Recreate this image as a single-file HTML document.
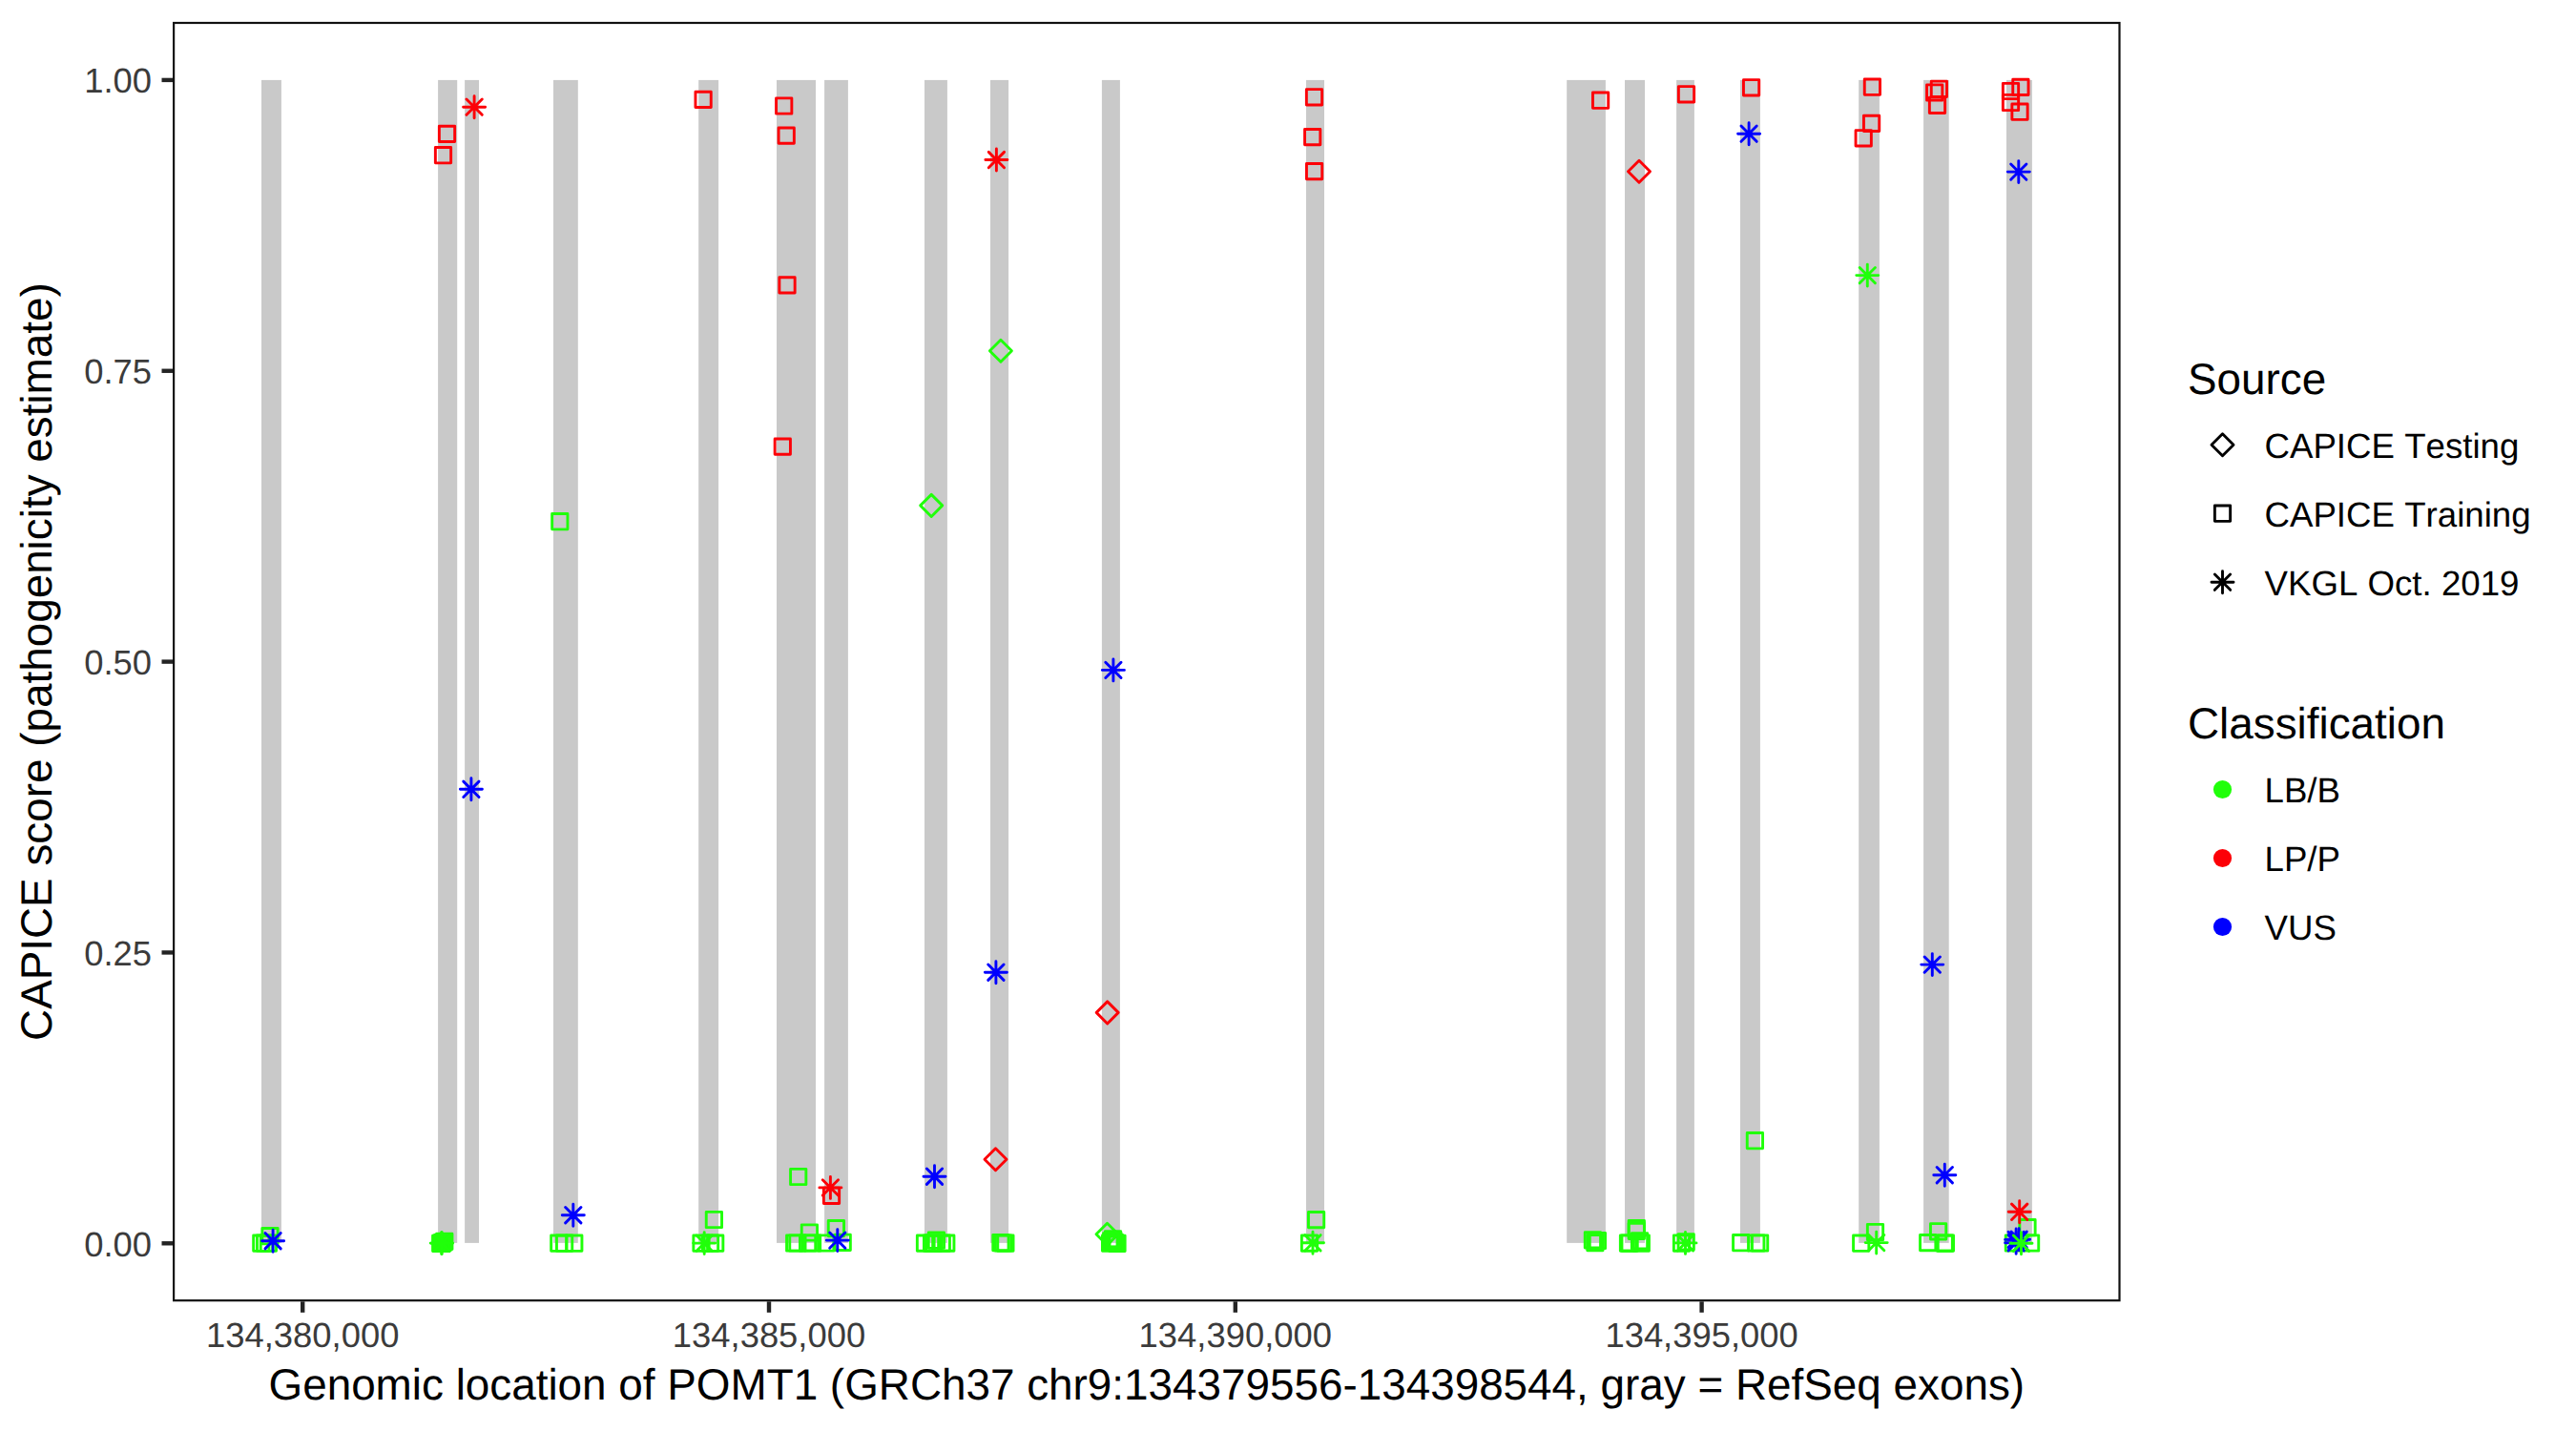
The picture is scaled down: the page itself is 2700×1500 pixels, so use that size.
<!DOCTYPE html>
<html lang="en"><head><meta charset="utf-8"><title>POMT1 CAPICE</title>
<style>html,body{margin:0;padding:0;background:#fff}svg{display:block}text{font-family:"Liberation Sans",sans-serif;text-rendering:geometricPrecision;font-kerning:none}</style></head><body>
<svg width="2700" height="1500" viewBox="0 0 2700 1500">
<rect x="0" y="0" width="2700" height="1500" fill="#ffffff"/>
<g fill="#C9C9C9" shape-rendering="auto">
<rect x="274.0" y="83.9" width="20.9" height="1219.0"/>
<rect x="459.1" y="83.9" width="20.1" height="1219.0"/>
<rect x="487.1" y="83.9" width="14.9" height="1219.0"/>
<rect x="580.0" y="83.9" width="25.8" height="1219.0"/>
<rect x="732.2" y="83.9" width="20.9" height="1219.0"/>
<rect x="814.0" y="83.9" width="41.0" height="1219.0"/>
<rect x="864.1" y="83.9" width="24.8" height="1219.0"/>
<rect x="969.0" y="83.9" width="23.9" height="1219.0"/>
<rect x="1038.0" y="83.9" width="19.1" height="1219.0"/>
<rect x="1154.9" y="83.9" width="19.0" height="1219.0"/>
<rect x="1369.0" y="83.9" width="19.0" height="1219.0"/>
<rect x="1642.2" y="83.9" width="40.7" height="1219.0"/>
<rect x="1703.0" y="83.9" width="21.0" height="1219.0"/>
<rect x="1757.1" y="83.9" width="18.8" height="1219.0"/>
<rect x="1824.0" y="83.9" width="20.9" height="1219.0"/>
<rect x="1948.2" y="83.9" width="21.7" height="1219.0"/>
<rect x="2016.1" y="83.9" width="26.6" height="1219.0"/>
<rect x="2103.0" y="83.9" width="26.9" height="1219.0"/>
</g>
<g fill="none" stroke-width="2.90" stroke-linecap="round" stroke-linejoin="round">
<rect x="454.5" y="1294.0" width="19.0" height="17.0" fill="#20FF0A" stroke="none"/>
<rect x="1155.5" y="1291.5" width="8.7" height="20.0" fill="#20FF0A" stroke="none"/>
<rect x="1155.5" y="1291.5" width="19.5" height="6.0" fill="#20FF0A" stroke="none"/>
<rect x="1169.6" y="1291.5" width="6.9" height="20.0" fill="#20FF0A" stroke="none"/>
<rect x="1155.5" y="1305.8" width="21.0" height="5.7" fill="#20FF0A" stroke="none"/>
<rect x="460.36" y="132.25" width="16.29" height="16.29" stroke="#FC0007"/>
<rect x="456.36" y="154.55" width="16.29" height="16.29" stroke="#FC0007"/>
<rect x="728.96" y="96.26" width="16.29" height="16.29" stroke="#FC0007"/>
<rect x="813.56" y="102.86" width="16.29" height="16.29" stroke="#FC0007"/>
<rect x="816.06" y="133.95" width="16.29" height="16.29" stroke="#FC0007"/>
<rect x="1369.36" y="93.66" width="16.29" height="16.29" stroke="#FC0007"/>
<rect x="1367.56" y="135.45" width="16.29" height="16.29" stroke="#FC0007"/>
<rect x="1369.45" y="171.45" width="16.29" height="16.29" stroke="#FC0007"/>
<rect x="1669.45" y="97.06" width="16.29" height="16.29" stroke="#FC0007"/>
<rect x="1759.36" y="90.66" width="16.29" height="16.29" stroke="#FC0007"/>
<rect x="1827.45" y="83.66" width="16.29" height="16.29" stroke="#FC0007"/>
<rect x="1954.26" y="83.06" width="16.29" height="16.29" stroke="#FC0007"/>
<rect x="1953.45" y="121.26" width="16.29" height="16.29" stroke="#FC0007"/>
<rect x="1945.06" y="136.66" width="16.29" height="16.29" stroke="#FC0007"/>
<rect x="2024.26" y="85.16" width="16.29" height="16.29" stroke="#FC0007"/>
<rect x="2019.56" y="88.86" width="16.29" height="16.29" stroke="#FC0007"/>
<rect x="2022.36" y="102.16" width="16.29" height="16.29" stroke="#FC0007"/>
<rect x="2109.76" y="83.26" width="16.29" height="16.29" stroke="#FC0007"/>
<rect x="2099.36" y="87.36" width="16.29" height="16.29" stroke="#FC0007"/>
<rect x="2099.36" y="99.36" width="16.29" height="16.29" stroke="#FC0007"/>
<rect x="2108.86" y="109.06" width="16.29" height="16.29" stroke="#FC0007"/>
<rect x="816.86" y="290.75" width="16.29" height="16.29" stroke="#FC0007"/>
<rect x="812.15" y="459.96" width="16.29" height="16.29" stroke="#FC0007"/>
<rect x="578.65" y="538.56" width="16.29" height="16.29" stroke="#20FF0A"/>
<rect x="265.66" y="1295.06" width="16.29" height="16.29" stroke="#20FF0A"/>
<rect x="269.46" y="1295.06" width="16.29" height="16.29" stroke="#20FF0A"/>
<rect x="273.25" y="1295.06" width="16.29" height="16.29" stroke="#20FF0A"/>
<rect x="274.86" y="1287.56" width="16.29" height="16.29" stroke="#20FF0A"/>
<rect x="453.56" y="1295.15" width="16.29" height="16.29" stroke="#20FF0A"/>
<rect x="454.86" y="1295.15" width="16.29" height="16.29" stroke="#20FF0A"/>
<rect x="456.25" y="1294.15" width="16.29" height="16.29" stroke="#20FF0A"/>
<rect x="457.66" y="1293.15" width="16.29" height="16.29" stroke="#20FF0A"/>
<rect x="577.65" y="1295.06" width="16.29" height="16.29" stroke="#20FF0A"/>
<rect x="583.46" y="1295.06" width="16.29" height="16.29" stroke="#20FF0A"/>
<rect x="593.65" y="1295.06" width="16.29" height="16.29" stroke="#20FF0A"/>
<rect x="828.56" y="1225.36" width="16.29" height="16.29" stroke="#20FF0A"/>
<rect x="863.36" y="1245.15" width="16.29" height="16.29" stroke="#FC0007"/>
<rect x="740.25" y="1270.36" width="16.29" height="16.29" stroke="#20FF0A"/>
<rect x="840.25" y="1283.86" width="16.29" height="16.29" stroke="#20FF0A"/>
<rect x="868.25" y="1279.45" width="16.29" height="16.29" stroke="#20FF0A"/>
<rect x="726.86" y="1295.06" width="16.29" height="16.29" stroke="#20FF0A"/>
<rect x="736.36" y="1295.06" width="16.29" height="16.29" stroke="#20FF0A"/>
<rect x="741.56" y="1295.06" width="16.29" height="16.29" stroke="#20FF0A"/>
<rect x="824.56" y="1294.86" width="16.29" height="16.29" stroke="#20FF0A"/>
<rect x="827.75" y="1294.86" width="16.29" height="16.29" stroke="#20FF0A"/>
<rect x="838.46" y="1294.86" width="16.29" height="16.29" stroke="#20FF0A"/>
<rect x="843.36" y="1294.86" width="16.29" height="16.29" stroke="#20FF0A"/>
<rect x="857.56" y="1294.86" width="16.29" height="16.29" stroke="#20FF0A"/>
<rect x="875.06" y="1294.15" width="16.29" height="16.29" stroke="#20FF0A"/>
<rect x="961.36" y="1294.95" width="16.29" height="16.29" stroke="#20FF0A"/>
<rect x="968.46" y="1294.95" width="16.29" height="16.29" stroke="#20FF0A"/>
<rect x="973.25" y="1292.06" width="16.29" height="16.29" stroke="#20FF0A"/>
<rect x="979.15" y="1294.95" width="16.29" height="16.29" stroke="#20FF0A"/>
<rect x="970.56" y="1294.95" width="16.29" height="16.29" stroke="#20FF0A"/>
<rect x="983.65" y="1294.95" width="16.29" height="16.29" stroke="#20FF0A"/>
<rect x="1040.76" y="1294.45" width="16.29" height="16.29" stroke="#20FF0A"/>
<rect x="1043.36" y="1294.86" width="16.29" height="16.29" stroke="#20FF0A"/>
<rect x="1045.76" y="1295.06" width="16.29" height="16.29" stroke="#20FF0A"/>
<rect x="1155.45" y="1295.06" width="16.29" height="16.29" stroke="#20FF0A"/>
<rect x="1156.86" y="1293.36" width="16.29" height="16.29" stroke="#20FF0A"/>
<rect x="1158.36" y="1290.65" width="16.29" height="16.29" stroke="#20FF0A"/>
<rect x="1160.36" y="1294.36" width="16.29" height="16.29" stroke="#20FF0A"/>
<rect x="1162.86" y="1295.15" width="16.29" height="16.29" stroke="#20FF0A"/>
<rect x="1371.45" y="1270.45" width="16.29" height="16.29" stroke="#20FF0A"/>
<rect x="1364.36" y="1294.95" width="16.29" height="16.29" stroke="#20FF0A"/>
<rect x="1661.26" y="1291.76" width="16.29" height="16.29" stroke="#20FF0A"/>
<rect x="1663.76" y="1294.56" width="16.29" height="16.29" stroke="#20FF0A"/>
<rect x="1666.26" y="1292.36" width="16.29" height="16.29" stroke="#20FF0A"/>
<rect x="1707.15" y="1279.45" width="16.29" height="16.29" stroke="#20FF0A"/>
<rect x="1707.15" y="1282.26" width="16.29" height="16.29" stroke="#20FF0A"/>
<rect x="1699.95" y="1294.90" width="16.29" height="16.29" stroke="#20FF0A"/>
<rect x="1698.36" y="1294.90" width="16.29" height="16.29" stroke="#20FF0A"/>
<rect x="1712.15" y="1294.90" width="16.29" height="16.29" stroke="#20FF0A"/>
<rect x="1710.36" y="1292.65" width="16.29" height="16.29" stroke="#20FF0A"/>
<rect x="1754.36" y="1294.90" width="16.29" height="16.29" stroke="#20FF0A"/>
<rect x="1759.06" y="1293.65" width="16.29" height="16.29" stroke="#20FF0A"/>
<rect x="1816.56" y="1294.56" width="16.29" height="16.29" stroke="#20FF0A"/>
<rect x="1832.65" y="1294.86" width="16.29" height="16.29" stroke="#20FF0A"/>
<rect x="1836.45" y="1294.86" width="16.29" height="16.29" stroke="#20FF0A"/>
<rect x="1831.26" y="1187.56" width="16.29" height="16.29" stroke="#20FF0A"/>
<rect x="1942.56" y="1295.06" width="16.29" height="16.29" stroke="#20FF0A"/>
<rect x="1957.36" y="1283.36" width="16.29" height="16.29" stroke="#20FF0A"/>
<rect x="2023.45" y="1282.65" width="16.29" height="16.29" stroke="#20FF0A"/>
<rect x="2012.56" y="1294.45" width="16.29" height="16.29" stroke="#20FF0A"/>
<rect x="2030.06" y="1294.95" width="16.29" height="16.29" stroke="#20FF0A"/>
<rect x="2031.26" y="1294.95" width="16.29" height="16.29" stroke="#20FF0A"/>
<rect x="2102.26" y="1294.86" width="16.29" height="16.29" stroke="#20FF0A"/>
<rect x="2120.45" y="1294.86" width="16.29" height="16.29" stroke="#20FF0A"/>
<rect x="2116.86" y="1278.56" width="16.29" height="16.29" stroke="#20FF0A"/>
<path d="M1706.48 179.80L1718.00 168.28L1729.52 179.80L1718.00 191.32Z" stroke="#FC0007"/>
<path d="M1037.38 367.80L1048.90 356.28L1060.42 367.80L1048.90 379.32Z" stroke="#20FF0A"/>
<path d="M964.68 529.90L976.20 518.38L987.72 529.90L976.20 541.42Z" stroke="#20FF0A"/>
<path d="M1149.18 1061.40L1160.70 1049.88L1172.22 1061.40L1160.70 1072.92Z" stroke="#FC0007"/>
<path d="M1031.98 1215.30L1043.50 1203.78L1055.02 1215.30L1043.50 1226.82Z" stroke="#FC0007"/>
<path d="M1148.98 1293.80L1160.50 1282.28L1172.02 1293.80L1160.50 1305.32Z" stroke="#20FF0A"/>
<path d="M1824.95 132.05L1841.24 148.34M1824.95 148.34L1841.24 132.05M1821.58 140.20L1844.62 140.20M1833.10 128.68L1833.10 151.72" stroke="#0000FE"/>
<path d="M2107.66 171.95L2123.95 188.25M2107.66 188.25L2123.95 171.95M2104.28 180.10L2127.32 180.10M2115.80 168.58L2115.80 191.62" stroke="#0000FE"/>
<path d="M485.75 819.15L502.04 835.44M485.75 835.44L502.04 819.15M482.38 827.30L505.42 827.30M493.90 815.78L493.90 838.82" stroke="#0000FE"/>
<path d="M1158.76 694.25L1175.05 710.54M1158.76 710.54L1175.05 694.25M1155.38 702.40L1178.42 702.40M1166.90 690.88L1166.90 713.92" stroke="#0000FE"/>
<path d="M1035.76 1011.06L1052.05 1027.35M1035.76 1027.35L1052.05 1011.06M1032.38 1019.20L1055.42 1019.20M1043.90 1007.68L1043.90 1030.72" stroke="#0000FE"/>
<path d="M2017.15 1002.96L2033.44 1019.25M2017.15 1019.25L2033.44 1002.96M2013.78 1011.10L2036.82 1011.10M2025.30 999.58L2025.30 1022.62" stroke="#0000FE"/>
<path d="M277.96 1292.56L294.25 1308.85M277.96 1308.85L294.25 1292.56M274.58 1300.70L297.62 1300.70M286.10 1289.18L286.10 1312.22" stroke="#0000FE"/>
<path d="M592.65 1265.56L608.94 1281.85M592.65 1281.85L608.94 1265.56M589.28 1273.70L612.32 1273.70M600.80 1262.18L600.80 1285.22" stroke="#0000FE"/>
<path d="M971.36 1225.06L987.64 1241.35M971.36 1241.35L987.64 1225.06M967.98 1233.20L991.02 1233.20M979.50 1221.68L979.50 1244.72" stroke="#0000FE"/>
<path d="M869.65 1291.95L885.94 1308.24M869.65 1308.24L885.94 1291.95M866.28 1300.10L889.32 1300.10M877.80 1288.58L877.80 1311.62" stroke="#0000FE"/>
<path d="M2030.15 1223.56L2046.44 1239.85M2030.15 1239.85L2046.44 1223.56M2026.78 1231.70L2049.82 1231.70M2038.30 1220.18L2038.30 1243.22" stroke="#0000FE"/>
<path d="M2105.01 1291.26L2121.30 1307.55M2105.01 1307.55L2121.30 1291.26M2101.63 1299.40L2124.67 1299.40M2113.15 1287.88L2113.15 1310.92" stroke="#0000FE"/>
<path d="M2105.01 1294.56L2121.30 1310.85M2105.01 1310.85L2121.30 1294.56M2101.63 1302.70L2124.67 1302.70M2113.15 1291.18L2113.15 1314.22" stroke="#0000FE"/>
<path d="M2108.01 1291.15L2124.30 1307.44M2108.01 1307.44L2124.30 1291.15M2104.63 1299.30L2127.67 1299.30M2116.15 1287.78L2116.15 1310.82" stroke="#0000FE"/>
<path d="M488.96 104.06L505.25 120.34M488.96 120.34L505.25 104.06M485.58 112.20L508.62 112.20M497.10 100.68L497.10 123.72" stroke="#FC0007"/>
<path d="M1036.26 159.35L1052.55 175.65M1036.26 175.65L1052.55 159.35M1032.88 167.50L1055.92 167.50M1044.40 155.98L1044.40 179.02" stroke="#FC0007"/>
<path d="M862.25 1236.76L878.54 1253.05M862.25 1253.05L878.54 1236.76M858.88 1244.90L881.92 1244.90M870.40 1233.38L870.40 1256.42" stroke="#FC0007"/>
<path d="M2108.55 1262.15L2124.84 1278.44M2108.55 1278.44L2124.84 1262.15M2105.18 1270.30L2128.22 1270.30M2116.70 1258.78L2116.70 1281.82" stroke="#FC0007"/>
<path d="M1949.15 280.46L1965.44 296.75M1949.15 296.75L1965.44 280.46M1945.78 288.60L1968.82 288.60M1957.30 277.08L1957.30 300.12" stroke="#20FF0A"/>
<path d="M454.56 1294.95L470.84 1311.24M454.56 1311.24L470.84 1294.95M451.18 1303.10L474.22 1303.10M462.70 1291.58L462.70 1314.62" stroke="#20FF0A"/>
<path d="M455.06 1294.95L471.34 1311.24M455.06 1311.24L471.34 1294.95M451.68 1303.10L474.72 1303.10M463.20 1291.58L463.20 1314.62" stroke="#20FF0A"/>
<path d="M730.06 1294.95L746.35 1311.24M730.06 1311.24L746.35 1294.95M726.68 1303.10L749.72 1303.10M738.20 1291.58L738.20 1314.62" stroke="#20FF0A"/>
<path d="M1367.86 1294.65L1384.14 1310.94M1367.86 1310.94L1384.14 1294.65M1364.48 1302.80L1387.52 1302.80M1376.00 1291.28L1376.00 1314.32" stroke="#20FF0A"/>
<path d="M1758.36 1294.76L1774.64 1311.05M1758.36 1311.05L1774.64 1294.76M1754.98 1302.90L1778.02 1302.90M1766.50 1291.38L1766.50 1314.42" stroke="#20FF0A"/>
<path d="M1958.56 1294.45L1974.85 1310.74M1958.56 1310.74L1974.85 1294.45M1955.18 1302.60L1978.22 1302.60M1966.70 1291.08L1966.70 1314.12" stroke="#20FF0A"/>
<path d="M2110.36 1295.06L2126.64 1311.35M2110.36 1311.35L2126.64 1295.06M2106.98 1303.20L2130.02 1303.20M2118.50 1291.68L2118.50 1314.72" stroke="#20FF0A"/>
</g>
<rect x="182.10" y="24.00" width="2039.40" height="1339.20" fill="none" stroke="#111111" stroke-width="2.20"/>
<g stroke="#242424" stroke-width="4.4">
<line x1="169.5" y1="1303.30" x2="181.0" y2="1303.30"/>
<line x1="169.5" y1="998.45" x2="181.0" y2="998.45"/>
<line x1="169.5" y1="693.60" x2="181.0" y2="693.60"/>
<line x1="169.5" y1="388.75" x2="181.0" y2="388.75"/>
<line x1="169.5" y1="83.90" x2="181.0" y2="83.90"/>
<line x1="317.20" y1="1364.3" x2="317.20" y2="1375.8"/>
<line x1="806.00" y1="1364.3" x2="806.00" y2="1375.8"/>
<line x1="1294.80" y1="1364.3" x2="1294.80" y2="1375.8"/>
<line x1="1783.60" y1="1364.3" x2="1783.60" y2="1375.8"/>
</g>
<g fill="#3B3B3B" font-size="36.4px">
<text x="159.0" y="1316.60" text-anchor="end">0.00</text>
<text x="159.0" y="1011.75" text-anchor="end">0.25</text>
<text x="159.0" y="706.90" text-anchor="end">0.50</text>
<text x="159.0" y="402.05" text-anchor="end">0.75</text>
<text x="159.0" y="97.20" text-anchor="end">1.00</text>
<text x="317.20" y="1412.2" text-anchor="middle">134,380,000</text>
<text x="806.00" y="1412.2" text-anchor="middle">134,385,000</text>
<text x="1294.80" y="1412.2" text-anchor="middle">134,390,000</text>
<text x="1783.60" y="1412.2" text-anchor="middle">134,395,000</text>
</g>
<g fill="#000000" font-size="45.83px">
<text x="1201.8" y="1466.6" text-anchor="middle">Genomic location of POMT1 (GRCh37 chr9:134379556-134398544, gray = RefSeq exons)</text>
<text transform="translate(54.3 693.6) rotate(-90)" text-anchor="middle">CAPICE score (pathogenicity estimate)</text>
<text x="2293" y="413.2">Source</text>
<text x="2293" y="773.6">Classification</text>
</g>
<g fill="none" stroke="#000000" stroke-width="2.90" stroke-linecap="round" stroke-linejoin="round">
<path d="M2317.98 466.20L2329.50 454.68L2341.02 466.20L2329.50 477.72Z"/>
<rect x="2321.36" y="530.06" width="16.29" height="16.29"/>
<path d="M2321.36 602.06L2337.64 618.35M2321.36 618.35L2337.64 602.06M2317.98 610.20L2341.02 610.20M2329.50 598.68L2329.50 621.72"/>
</g>
<circle cx="2329.5" cy="827.5" r="9.6" fill="#20FF0A"/>
<circle cx="2329.5" cy="899.5" r="9.6" fill="#FC0007"/>
<circle cx="2329.5" cy="971.5" r="9.6" fill="#0000FE"/>
<g fill="#000000" font-size="36.67px">
<text x="2373.5" y="480.0">CAPICE Testing</text>
<text x="2373.5" y="552.0">CAPICE Training</text>
<text x="2373.5" y="624.0">VKGL Oct. 2019</text>
<text x="2373.5" y="841.3">LB/B</text>
<text x="2373.5" y="913.3">LP/P</text>
<text x="2373.5" y="985.3">VUS</text>
</g>
</svg></body></html>
